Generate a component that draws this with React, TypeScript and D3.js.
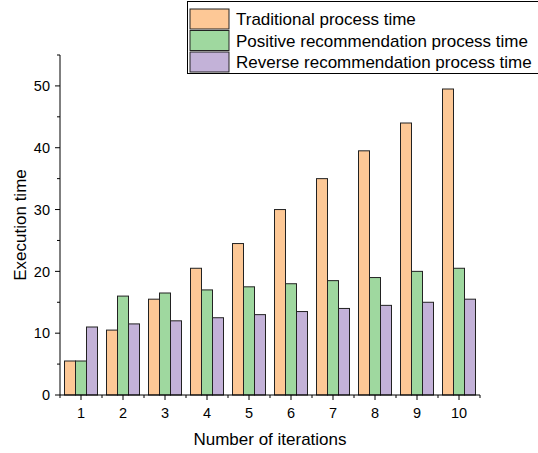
import React, { useRef, useEffect } from 'react';
import * as d3 from 'd3';

const iterations = ['1', '2', '3', '4', '5', '6', '7', '8', '9', '10'];
const traditional = [5.5, 10.5, 15.5, 20.5, 24.5, 30, 35, 39.5, 44, 49.5];
const positive = [5.5, 16, 16.5, 17, 17.5, 18, 18.5, 19, 20, 20.5];
const reverse = [11, 11.5, 12, 12.5, 13, 13.5, 14, 14.5, 15, 15.5];
const seriesNames = [
  'Traditional process time',
  'Positive recommendation process time',
  'Reverse recommendation process time',
];
const colors = ['#FDC896', '#9FD89F', '#C3B2D8'];
const yTicks = [0, 10, 20, 30, 40, 50];

const App = () => {
  const svgRef = useRef(null);

  useEffect(() => {
    const svg = d3.select(svgRef.current);
    svg.selectAll('*').remove();
    const font = '"Liberation Sans", Arial, sans-serif';

    const left = 60, right = 480, top = 55, bottom = 395;

    const x = d3.scaleBand().domain(iterations).range([left, right]).padding(0);
    // group of three bars takes ~33px of each 42px band
    const x1 = d3.scaleBand().domain(['0', '1', '2']).range([4.5, x.bandwidth() - 4.5]).padding(0);
    const y = d3.scaleLinear().domain([0, 55]).range([bottom, top]);

    const series = [traditional, positive, reverse];

    const g = svg.append('g');
    series.forEach((vals, si) => {
      g.selectAll(null)
        .data(vals)
        .enter()
        .append('rect')
        .attr('x', (d, i) => x(iterations[i]) + x1(String(si)))
        .attr('y', d => y(d))
        .attr('width', x1.bandwidth())
        .attr('height', d => y(0) - y(d))
        .attr('fill', colors[si])
        .attr('stroke', '#222')
        .attr('stroke-width', 1);
    });

    // y axis
    const yAxis = svg.append('g').attr('stroke', '#000').attr('stroke-width', 1);
    yAxis.append('line').attr('x1', left).attr('x2', left).attr('y1', top).attr('y2', bottom);
    d3.range(0, 56, 5).forEach(v => {
      const major = v % 10 === 0;
      yAxis.append('line')
        .attr('x1', left).attr('x2', left - (major ? 5 : 3))
        .attr('y1', y(v)).attr('y2', y(v));
    });
    svg.append('g').selectAll('text').data(yTicks).enter().append('text')
      .attr('x', left - 10).attr('y', d => y(d)).attr('dy', '0.36em')
      .attr('text-anchor', 'end').style('font', `14.5px ${font}`).text(d => d);

    // x axis
    const xAxis = svg.append('g').attr('stroke', '#000').attr('stroke-width', 1);
    xAxis.append('line').attr('x1', left).attr('x2', right).attr('y1', bottom).attr('y2', bottom);
    iterations.forEach(c => {
      const cx = x(c) + x.bandwidth() / 2;
      xAxis.append('line').attr('x1', cx).attr('x2', cx).attr('y1', bottom).attr('y2', bottom + 5);
      xAxis.append('line').attr('x1', x(c)).attr('x2', x(c)).attr('y1', bottom).attr('y2', bottom + 3);
    });
    xAxis.append('line').attr('x1', right).attr('x2', right).attr('y1', bottom).attr('y2', bottom + 3);
    svg.append('g').selectAll('text').data(iterations).enter().append('text')
      .attr('x', d => x(d) + x.bandwidth() / 2).attr('y', bottom + 23)
      .attr('text-anchor', 'middle').style('font', `14.5px ${font}`).text(d => d);

    // axis titles
    svg.append('text')
      .attr('x', 270).attr('y', 445)
      .attr('text-anchor', 'middle').style('font', `17px ${font}`)
      .text('Number of iterations');
    svg.append('text')
      .attr('transform', `translate(26,${(top + bottom) / 2}) rotate(-90)`)
      .attr('text-anchor', 'middle').style('font', `17px ${font}`)
      .text('Execution time');

    // legend
    const lg = svg.append('g');
    lg.append('rect').attr('x', 187.5).attr('y', 1.5).attr('width', 380).attr('height', 72)
      .attr('fill', '#fff').attr('stroke', '#000').attr('stroke-width', 1);
    seriesNames.forEach((name, i) => {
      const ry = 9 + i * 21.5;
      lg.append('rect').attr('x', 190).attr('y', ry).attr('width', 39).attr('height', 20)
        .attr('fill', colors[i]).attr('stroke', '#222');
      lg.append('text').attr('x', 236).attr('y', ry + 10).attr('dy', '0.36em')
        .style('font', `17px ${font}`).text(name);
    });
  }, []);

  return (
    <svg ref={svgRef} width={538} height={453}
      style={{ position: 'absolute', left: 0, top: 0, background: '#fff' }} />
  );
};

export default App;
